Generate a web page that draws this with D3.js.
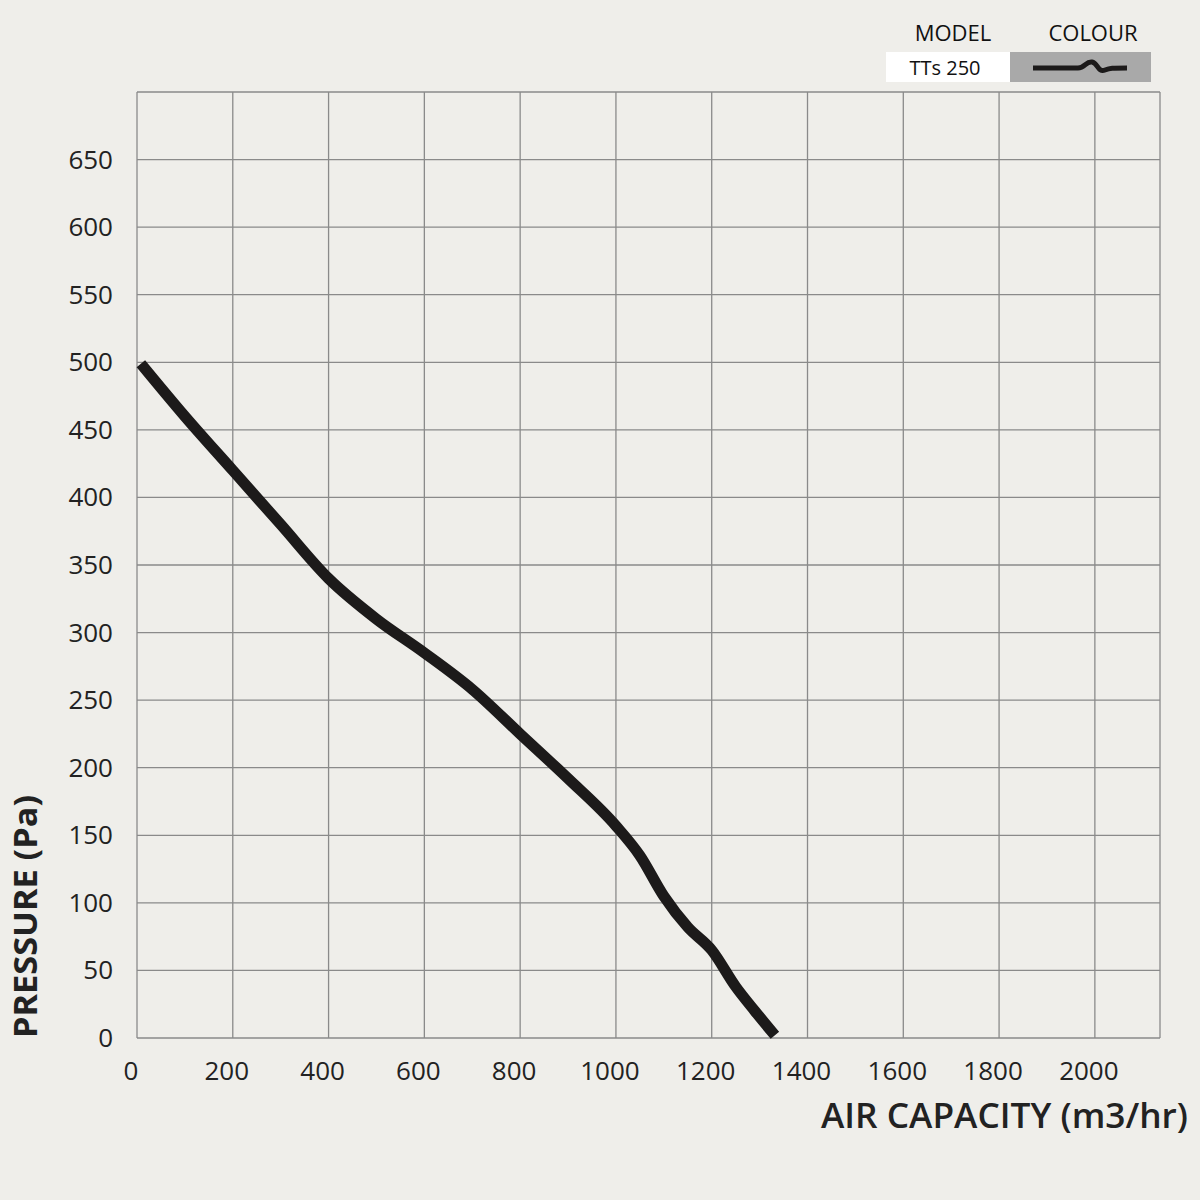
<!DOCTYPE html>
<html><head><meta charset="utf-8">
<script src="https://cdn.jsdelivr.net/npm/d3@7"></script>
<style>body{margin:0;background:#efeeea;}svg{display:block;font-family:"Open Sans",sans-serif;}</style>
</head><body><svg id="chart"></svg>
<script>
const airFlow = [8, 100, 200, 300, 400, 500, 600, 700, 800, 900, 1000, 1050, 1100, 1150, 1200, 1250, 1290, 1332];
const pressure = [499, 460, 420, 380, 340, 310, 285, 258, 225, 192, 157, 135, 105, 82, 65, 38, 20, 2];
const xTicks = [0, 200, 400, 600, 800, 1000, 1200, 1400, 1600, 1800, 2000];
const yTicks = [0, 50, 100, 150, 200, 250, 300, 350, 400, 450, 500, 550, 600, 650];

const width = 1200, height = 1200;
const svg = d3.select('#chart').attr('width', width).attr('height', height);
svg.append('rect').attr('width', width).attr('height', height).attr('fill', '#efeeea');

const x = d3.scaleLinear().domain([0, 2136]).range([137, 1160]);
const y = d3.scaleLinear().domain([0, 700]).range([1038, 92]);

const grid = svg.append('g').attr('stroke', '#8a8a8a').attr('stroke-width', 1.3);
xTicks.concat([2136]).forEach(v => grid.append('line')
  .attr('x1', x(v)).attr('x2', x(v)).attr('y1', y(0)).attr('y2', y(700)));
yTicks.concat([700]).forEach(v => grid.append('line')
  .attr('x1', x(0)).attr('x2', x(2136)).attr('y1', y(v)).attr('y2', y(v)));

svg.append('g').selectAll('text').data(xTicks).enter().append('text')
  .attr('x', d => x(d) - 6).attr('y', 1080).attr('text-anchor', 'middle')
  .attr('font-size', 26).attr('fill', '#222').text(d => d);
svg.append('g').selectAll('text').data(yTicks).enter().append('text')
  .attr('x', 113).attr('y', d => y(d) + 9).attr('text-anchor', 'end')
  .attr('font-size', 26).attr('fill', '#222').text(d => d);

svg.append('text').attr('x', 821).attr('y', 1128)
  .attr('font-size', 34).attr('font-weight', 600).attr('fill', '#222')
  .attr('textLength', 367).attr('lengthAdjust', 'spacingAndGlyphs').text('AIR CAPACITY (m3/hr)');
svg.append('text').attr('transform', 'translate(37,1038) rotate(-90)')
  .attr('font-size', 33).attr('font-weight', 700).attr('fill', '#222')
  .attr('textLength', 243).attr('lengthAdjust', 'spacingAndGlyphs').text('PRESSURE (Pa)');

const pts = airFlow.map((d, i) => [d, pressure[i]]);
svg.append('path').datum(pts)
  .attr('d', d3.line().x(d => x(d[0])).y(d => y(d[1])).curve(d3.curveMonotoneX))
  .attr('fill', 'none').attr('stroke', '#1c1a1a').attr('stroke-width', 11);

// legend
svg.append('text').attr('x', 953).attr('y', 41).attr('text-anchor', 'middle')
  .attr('font-size', 22).attr('font-weight', 500).attr('fill', '#111').text('MODEL');
svg.append('text').attr('x', 1093).attr('y', 41).attr('text-anchor', 'middle')
  .attr('font-size', 22).attr('font-weight', 500).attr('fill', '#111').text('COLOUR');
svg.append('rect').attr('x', 886).attr('y', 52).attr('width', 124).attr('height', 30).attr('fill', '#fff');
svg.append('rect').attr('x', 1010).attr('y', 52).attr('width', 141).attr('height', 30).attr('fill', '#a9a9a9');
svg.append('text').attr('x', 945).attr('y', 75).attr('text-anchor', 'middle')
  .attr('font-size', 20).attr('fill', '#111').text('TTs 250');
svg.append('path').attr('d', 'M1033,68 L1078,68 C1085,68 1086,61 1092,62 C1098,63 1098,73 1105,70 C1110,68 1112,68 1127,68')
  .attr('fill', 'none').attr('stroke', '#1c1a1a').attr('stroke-width', 5);
</script></body></html>
